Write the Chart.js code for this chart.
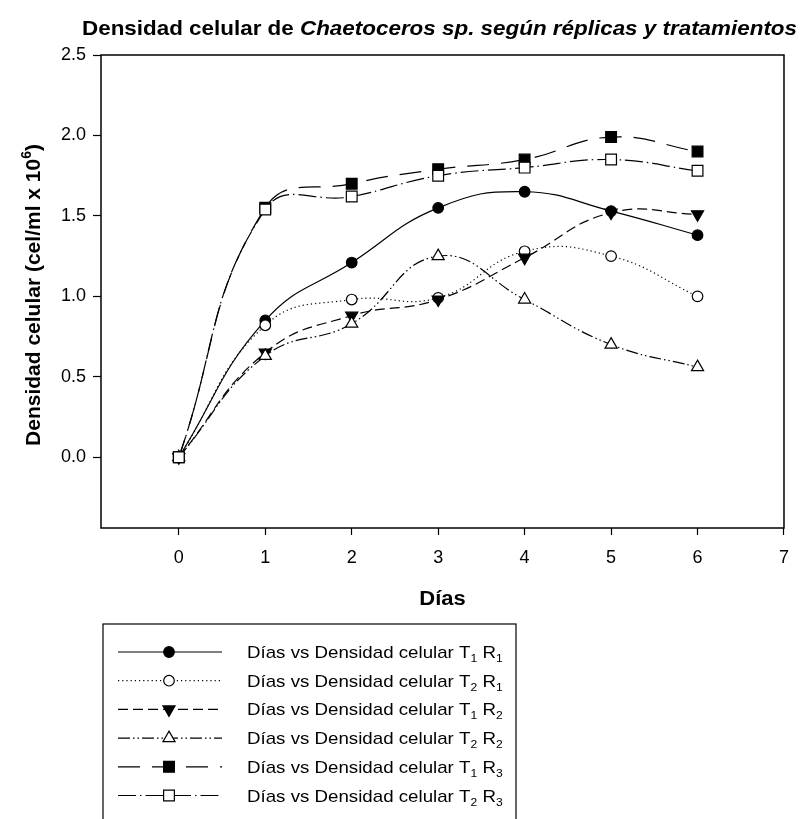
<!DOCTYPE html>
<html><head><meta charset="utf-8">
<script src="https://cdn.jsdelivr.net/npm/chart.js@4/dist/chart.umd.min.js"></script>
<style>html,body{margin:0;padding:0;background:#fff;overflow:hidden}canvas{display:block}</style>
</head><body>
<canvas id="c" width="801" height="819"></canvas>
<script>
// ---- data ----
const days = [0, 1, 2, 3, 4, 5, 6];
const t1r1 = [0, 0.85, 1.21, 1.55, 1.65, 1.53, 1.38];
const t2r1 = [0, 0.82, 0.98, 0.99, 1.28, 1.25, 1.00];
const t1r2 = [0, 0.65, 0.88, 0.98, 1.24, 1.52, 1.51];
const t2r2 = [0, 0.63, 0.83, 1.25, 0.98, 0.70, 0.56];
const t1r3 = [0, 1.55, 1.70, 1.79, 1.85, 1.99, 1.90];
const t2r3 = [0, 1.54, 1.62, 1.75, 1.80, 1.85, 1.78];
const xTicks = [0, 1, 2, 3, 4, 5, 6, 7];
const yTicks = [0.0, 0.5, 1.0, 1.5, 2.0, 2.5];
const legendBase = "Días vs Densidad celular";
const legendSubs = [["1", "1"], ["2", "1"], ["1", "2"], ["2", "2"], ["1", "3"], ["2", "3"]];
const titleA = "Densidad celular de ";
const titleB = "Chaetoceros sp. según réplicas y tratamientos";
const xTitle = "Días";
const yTitleA = "Densidad celular (cel/ml x 10";
const yTitleSup = "6";
const yTitleB = ")";

// ---- styles ----
const series = [t1r1, t2r1, t1r2, t2r2, t1r3, t2r3];
const styles = [
  { dash: [], point: 'circle', fill: '#000', rot: 0, r: 5.3 },
  { dash: [1.2, 3], point: 'circle', fill: '#fff', rot: 0, r: 5.3 },
  { dash: [10, 5], point: 'triangle', fill: '#000', rot: 180, r: 7 },
  { dash: [12, 3, 1.5, 3, 1.5, 3], point: 'triangle', fill: '#fff', rot: 0, r: 7 },
  { dash: [22, 12], point: 'rect', fill: '#000', rot: 0, r: 7.6 },
  { dash: [18, 4, 1.5, 4], point: 'rect', fill: '#fff', rot: 0, r: 7.6 }
];
const FONT = '"Liberation Sans", Arial, sans-serif';

const datasets = series.map((vals, i) => ({
  data: days.map((d, k) => ({ x: d, y: vals[k] })),
  borderColor: '#000',
  borderWidth: 1.2,
  borderDash: styles[i].dash,
  tension: 0.45,
  fill: false,
  pointStyle: styles[i].point,
  pointRotation: styles[i].rot,
  pointRadius: styles[i].r,
  pointBackgroundColor: styles[i].fill,
  pointBorderColor: '#000',
  pointBorderWidth: 1.2,
  order: 5 - i
}));

function sText(ctx, s, x, y, font, sx) {
  ctx.save();
  ctx.font = font;
  ctx.translate(x, y);
  ctx.scale(sx, 1);
  ctx.textAlign = 'left';
  ctx.fillText(s, 0, 0);
  const w = ctx.measureText(s).width * sx;
  ctx.restore();
  return w;
}
function mW(ctx, s, font) { ctx.save(); ctx.font = font; const w = ctx.measureText(s).width; ctx.restore(); return w; }

const decor = {
  id: 'decor',
  afterDraw(chart) {
    const ctx = chart.ctx;
    const a = chart.chartArea;
    ctx.save();
    ctx.fillStyle = '#000';
    ctx.strokeStyle = '#000';
    // frame
    ctx.lineWidth = 1.5;
    ctx.setLineDash([]);
    ctx.strokeRect(a.left, a.top, a.right - a.left, a.bottom - a.top);
    ctx.textBaseline = 'alphabetic';

    // title
    const fA = 'bold 21px ' + FONT, fB = 'italic bold 21px ' + FONT;
    const wA = mW(ctx, titleA, fA), wB = mW(ctx, titleB, fB);
    const tx0 = 82, tx1 = 797;
    const sx = (tx1 - tx0) / (wA + wB);
    let x = tx0;
    x += sText(ctx, titleA, x, 35, fA, sx);
    sText(ctx, titleB, x, 35, fB, sx);

    // x title
    const fX = 'bold 20px ' + FONT;
    const wx = mW(ctx, xTitle, fX) * 1.1;
    sText(ctx, xTitle, (a.left + a.right) / 2 - wx / 2, 605, fX, 1.1);

    // y title (rotated)
    const fY = 'bold 21px ' + FONT, fS = 'bold 14px ' + FONT;
    const w1 = mW(ctx, yTitleA, fY), w2 = mW(ctx, yTitleSup, fS), w3 = mW(ctx, yTitleB, fY);
    const tot = w1 + w2 + w3;
    ctx.save();
    ctx.translate(40, 295);
    ctx.rotate(-Math.PI / 2);
    let px = -tot / 2;
    ctx.font = fY; ctx.fillText(yTitleA, px, 0); px += w1;
    ctx.font = fS; ctx.fillText(yTitleSup, px, -9); px += w2;
    ctx.font = fY; ctx.fillText(yTitleB, px, 0);
    ctx.restore();

    // legend box
    ctx.lineWidth = 1.2;
    ctx.strokeRect(103, 624, 413, 210);
    const rowY0 = 652, rowDy = 28.7;
    const fL = '17px ' + FONT, fSub = '11px ' + FONT;
    const lsx = 1.1;
    for (let i = 0; i < 6; i++) {
      const y = rowY0 + i * rowDy;
      const st = styles[i];
      ctx.save();
      ctx.lineWidth = 1.2;
      ctx.setLineDash(st.dash);
      ctx.beginPath();
      ctx.moveTo(118, y); ctx.lineTo(222, y);
      ctx.stroke();
      ctx.restore();
      ctx.save();
      ctx.setLineDash([]);
      ctx.lineWidth = 1.2;
      ctx.fillStyle = st.fill;
      ctx.strokeStyle = '#000';
      Chart.helpers.drawPoint(ctx, { pointStyle: st.point, rotation: st.rot, radius: st.r, borderWidth: 1.2 }, 169, y);
      ctx.restore();
      // text
      ctx.fillStyle = '#000';
      const by = y + 6;
      let lx = 247;
      lx += sText(ctx, legendBase + " T", lx, by, fL, lsx);
      lx += sText(ctx, legendSubs[i][0], lx, by + 4, fSub, lsx);
      lx += sText(ctx, " R", lx, by, fL, lsx);
      sText(ctx, legendSubs[i][1], lx, by + 4, fSub, lsx);
    }
    ctx.restore();
  }
};

const tickFont = { family: FONT, size: 18 };
new Chart(document.getElementById('c'), {
  type: 'line',
  data: { datasets },
  options: {
    responsive: false,
    devicePixelRatio: 1,
    animation: false,
    layout: { padding: { top: 55, right: 17, left: 0, bottom: 0 } },
    plugins: { legend: { display: false }, title: { display: false }, tooltip: { enabled: false } },
    scales: {
      x: {
        type: 'linear', min: -0.9, max: 7,
        afterBuildTicks: s => { s.ticks = xTicks.map(v => ({ value: v })); },
        afterFit: s => { s.height = 819 - 528; },
        grid: { display: true, drawOnChartArea: false, drawTicks: true, tickLength: 7, tickColor: '#000', tickWidth: 1.2 },
        border: { display: false },
        ticks: { color: '#000', font: tickFont, padding: 12, maxRotation: 0, autoSkip: false, callback: v => String(v) }
      },
      y: {
        type: 'linear', min: -0.44, max: 2.5,
        afterBuildTicks: s => { s.ticks = yTicks.map(v => ({ value: v })); },
        afterFit: s => { s.width = 101; },
        grid: { display: true, drawOnChartArea: false, drawTicks: true, tickLength: 8, tickColor: '#000', tickWidth: 1.2 },
        border: { display: false },
        ticks: { color: '#000', font: tickFont, padding: 7, autoSkip: false, callback: v => Number(v).toFixed(1) }
      }
    }
  },
  plugins: [decor]
});
</script>
</body></html>
